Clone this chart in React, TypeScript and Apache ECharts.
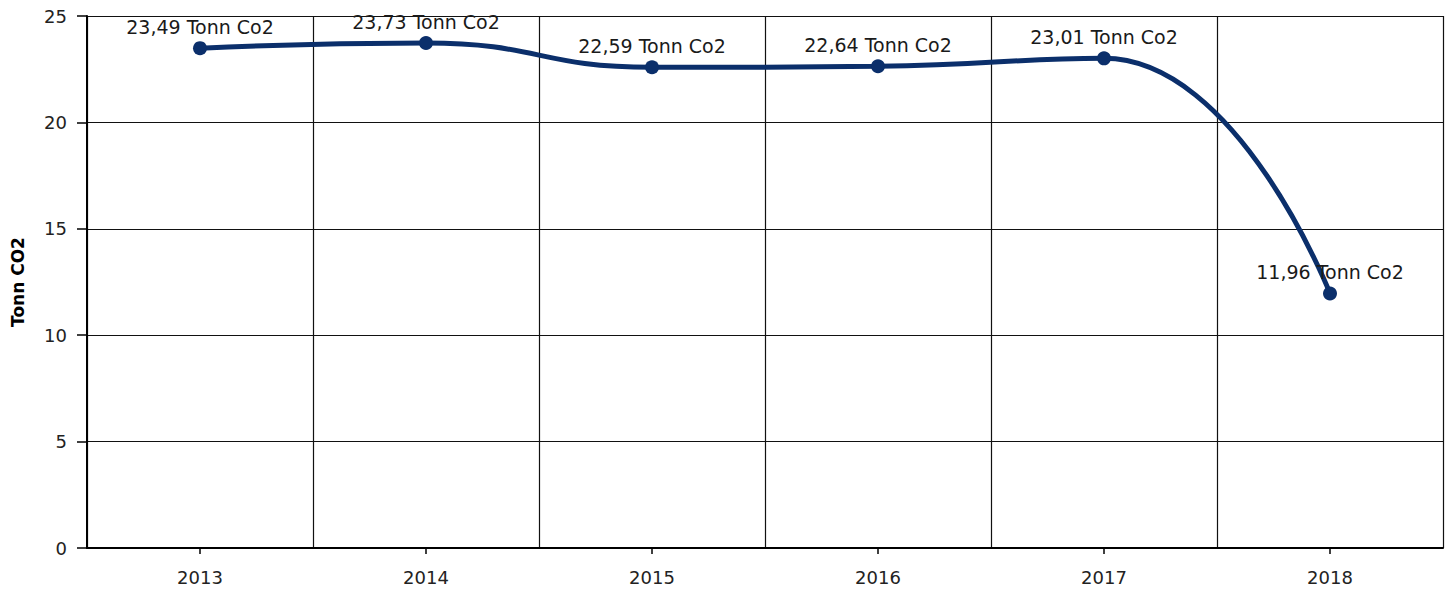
import React, { useEffect, useRef } from "react";
import * as echarts from "echarts";

const years: string[] = ["2013", "2014", "2015", "2016", "2017", "2018"];
const emissions: number[] = [23.49, 23.73, 22.59, 22.64, 23.01, 11.96];
const yTicks = { min: 0, max: 25, interval: 5 };
const unitSuffix = "Tonn Co2";
const yAxisTitle = "Tonn CO2";

export default function App() {
  const ref = useRef<HTMLDivElement>(null);
  useEffect(() => {
    if (!ref.current) return;
    const chart = echarts.init(ref.current, null, { renderer: "svg" });
    const font = "DejaVu Sans, Verdana, sans-serif";
    chart.setOption({
      animation: false,
      backgroundColor: "#ffffff",
      grid: { left: 87, right: 12, top: 16, bottom: 48, containLabel: false, outerBoundsMode: "none" },
      xAxis: {
        type: "category",
        data: years,
        boundaryGap: true,
        axisLine: { show: true, lineStyle: { color: "#000", width: 2 } },
        axisTick: { show: true, alignWithLabel: true, length: 6, lineStyle: { color: "#000", width: 1.5 } },
        axisLabel: { color: "#222", fontSize: 18, fontFamily: font, margin: 20 },
        splitLine: { show: true, lineStyle: { color: "#111", width: 1.2 } },
      },
      yAxis: {
        type: "value",
        min: yTicks.min,
        max: yTicks.max,
        interval: yTicks.interval,
        name: yAxisTitle,
        nameLocation: "middle",
        nameRotate: 90,
        nameGap: 61,
        nameTextStyle: { color: "#000", fontSize: 17, fontWeight: "bold", fontFamily: font, padding: [0, 0, 0, 0] },
        axisLine: { show: true, lineStyle: { color: "#000", width: 2 } },
        axisTick: { show: true, length: 10, lineStyle: { color: "#000", width: 1.5 } },
        axisLabel: { color: "#222", fontSize: 18, fontFamily: font, margin: 20 },
        splitLine: { show: true, lineStyle: { color: "#111", width: 1.2 } },
      },
      series: [
        {
          type: "line",
          data: emissions,
          smooth: 0.5,
          symbol: "circle",
          symbolSize: 14,
          lineStyle: { color: "#0b2f6b", width: 5 },
          itemStyle: { color: "#0b2f6b" },
          label: {
            show: true,
            position: "top",
            distance: 5,
            color: "#1a1a1a",
            fontSize: 19,
            fontFamily: font,
            formatter: (p: any) => `${Number(p.value).toFixed(2).replace(".", ",")} ${unitSuffix}`,
          },
        },
      ],
    });
    return () => chart.dispose();
  }, []);
  return (
    <div
      ref={ref}
      style={{ position: "fixed", left: 0, top: 0, width: 1455, height: 596 }}
    />
  );
}
